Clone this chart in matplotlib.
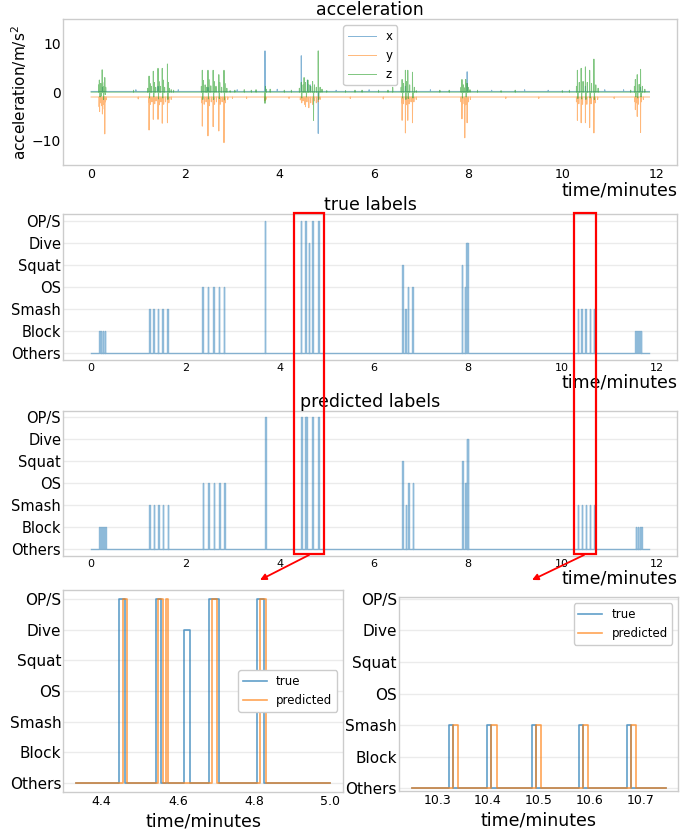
import numpy as np
import matplotlib
matplotlib.use('Agg')
import matplotlib.pyplot as plt
from matplotlib.patches import Rectangle, FancyArrowPatch

plt.rcParams['font.family'] = ['DejaVu Sans']

# ---------------- data ----------------
label_names = ['Others', 'Block', 'Smash', 'OS', 'Squat', 'Dive', 'OP/S']

rec_start, rec_end = 0.0, 11.85          # minutes
sample_step = 1 / 600                    # minutes per sample
base_x, base_y, base_z = 0.15, -1.0, 0.0 # resting acceleration (m/s^2)

# spikes: (time [min], value [m/s^2])
x_spikes = [(0.24, 1.0), (1.42, 1.2), (2.48, 1.0), (3.69, 8.5), (4.46, 7.5), (4.59, 2.5),
            (4.65, 1.5), (4.82, -8.5), (6.67, 1.2), (7.98, 4.2), (10.49, 1.2), (11.66, 1.0),
            (0.95, 0.5), (1.85, 0.5), (3.1, 0.5), (3.95, 0.6), (5.2, 0.4), (5.9, 0.5),
            (7.2, 0.5), (8.5, 0.4), (9.2, 0.5), (9.7, 0.4), (10.9, 0.5), (11.3, 0.5)]
y_spikes = [(0.17, -3.0), (0.18, -4.0), (0.20, -2.2), (0.22, -2.8), (0.24, -4.5), (0.26, -2.5),
            (0.28, -3.5), (0.29, -8.6), (0.30, -2.0), (0.32, -1.6),
            (1.22, -2.0), (1.23, -7.8), (1.26, -2.5), (1.29, -2.0), (1.32, -5.6), (1.35, -2.4),
            (1.38, -1.8), (1.42, -5.6), (1.45, -2.6), (1.48, -2.0), (1.51, -6.4), (1.54, -2.5),
            (1.58, -2.0), (1.62, -6.3), (1.65, -2.2), (1.70, -1.5),
            (2.35, -2.2), (2.36, -7.0), (2.40, -2.5), (2.44, -2.0), (2.48, -9.0), (2.51, -2.8),
            (2.55, -2.0), (2.59, -7.1), (2.62, -2.5), (2.66, -2.0), (2.71, -8.0), (2.74, -2.5),
            (2.78, -2.0), (2.82, -10.4), (2.85, -2.2), (2.90, -1.5), (3.0, -1.3),
            (3.69, -1.8), (3.71, -1.5),
            (4.44, -1.6), (4.47, -2.2), (4.50, -1.8), (4.53, -2.5), (4.55, -3.0), (4.58, -2.0),
            (4.62, -3.2), (4.66, -2.2), (4.70, -2.5), (4.74, -1.8), (4.78, -2.2), (4.82, -2.0),
            (4.86, -1.5),
            (6.59, -2.2), (6.60, -5.8), (6.63, -2.4), (6.67, -8.4), (6.69, -2.6), (6.72, -5.8),
            (6.75, -2.4), (6.79, -2.0), (6.82, -6.3), (6.85, -2.0), (6.90, -1.5),
            (7.85, -2.0), (7.87, -5.5), (7.89, -2.4), (7.93, -9.4), (7.95, -2.6), (7.98, -6.3),
            (8.01, -2.0), (8.05, -1.5),
            (10.30, -2.0), (10.32, -5.8), (10.35, -2.4), (10.40, -6.3), (10.43, -2.5),
            (10.49, -6.3), (10.52, -2.5), (10.58, -7.3), (10.61, -2.4), (10.67, -8.4),
            (10.70, -2.2), (10.75, -1.5),
            (11.54, -2.0), (11.55, -3.6), (11.57, -2.2), (11.59, -5.0), (11.61, -2.5),
            (11.66, -8.3), (11.68, -2.0), (11.72, -1.5),
            (1.0, -1.4), (3.3, -1.3), (4.2, -1.3), (5.5, -1.3), (6.2, -1.4), (8.8, -1.3),
            (9.5, -1.3), (11.1, -1.3)]
z_spikes = [(0.16, 1.5), (0.175, 2.5), (0.19, -1.0), (0.205, 1.8), (0.22, -0.8), (0.235, 4.6),
            (0.25, 1.2), (0.265, -1.5), (0.28, 2.0), (0.29, 3.0), (0.30, -0.5), (0.31, 1.0),
            (1.20, 0.8), (1.23, 3.3), (1.24, -1.2), (1.25, 1.8), (1.28, 1.2), (1.32, 4.3),
            (1.33, -1.0), (1.34, 2.0), (1.37, 1.0), (1.42, 4.9), (1.43, -1.4), (1.44, 2.2),
            (1.47, 1.2), (1.51, 4.9), (1.52, -1.2), (1.53, 2.5), (1.56, 1.0), (1.62, 5.8),
            (1.63, -1.5), (1.64, 2.0), (1.66, 0.8), (1.70, 0.5),
            (2.34, 1.2), (2.36, 4.5), (2.37, -1.5), (2.38, 2.4), (2.42, 1.5), (2.45, 1.0),
            (2.48, 4.5), (2.49, -1.4), (2.50, 2.6), (2.54, 1.3), (2.59, 4.5), (2.60, -1.5),
            (2.61, 2.2), (2.65, 1.2), (2.71, 3.6), (2.72, -1.3), (2.73, 2.0), (2.77, 1.0),
            (2.82, 4.5), (2.83, -1.6), (2.84, 1.8), (2.88, 0.8), (2.95, 0.6), (3.05, 0.4),
            (3.69, -2.3), (3.70, 1.2), (3.72, 0.6),
            (4.42, 0.8), (4.46, 2.0), (4.47, -1.2), (4.50, 1.5), (4.52, 3.0), (4.55, 2.0),
            (4.57, -1.0), (4.60, 2.5), (4.62, 1.5), (4.66, 1.2), (4.70, 2.2), (4.72, -5.8),
            (4.74, 1.5), (4.78, 1.0), (4.82, 8.5), (4.83, -1.5), (4.86, 1.0), (4.90, 0.6),
            (6.58, 1.0), (6.60, 2.6), (6.61, -1.2), (6.63, 1.8), (6.67, 4.5), (6.68, -1.5),
            (6.70, 2.2), (6.72, 4.5), (6.73, -1.3), (6.76, 1.5), (6.82, 4.1), (6.83, -1.2),
            (6.86, 1.0), (6.90, 0.5),
            (7.85, 1.0), (7.87, 2.6), (7.88, -1.2), (7.90, 1.5), (7.93, 0.9), (7.95, 2.6),
            (7.96, -1.0), (7.98, 1.8), (8.0, 1.0), (8.04, 0.5),
            (10.30, 1.2), (10.32, 4.5), (10.33, -1.3), (10.36, 2.0), (10.40, 4.9), (10.41, -1.4),
            (10.44, 2.2), (10.49, 5.2), (10.50, -1.5), (10.53, 2.0), (10.58, 4.5), (10.59, -1.2),
            (10.62, 1.8), (10.67, 6.8), (10.68, -1.5), (10.71, 1.5), (10.76, 0.8),
            (11.53, 1.2), (11.55, 2.6), (11.56, -1.0), (11.59, 3.6), (11.60, -1.2), (11.63, 1.6),
            (11.66, 4.7), (11.67, -1.0), (11.70, 1.2), (11.75, 0.6),
            (0.9, 0.4), (1.75, 0.4), (2.95, 0.3), (3.25, 0.5), (3.4, 0.4), (3.5, 0.5),
            (3.8, 0.6), (4.1, 0.4), (4.25, 0.4), (5.0, 0.3), (5.4, 0.3), (5.6, 0.4),
            (5.75, 0.4), (6.1, 0.4), (6.3, 0.4), (6.4, 1.0), (6.9, 0.3), (7.4, 0.4), (7.6, 0.4),
            (8.2, 0.4), (8.7, 0.3), (9.0, 0.4), (10.0, 0.3), (10.15, 0.4), (11.45, 0.4)]

# label events: (start [min], end [min], class index)
true_events = [(0.17, 0.185, 1), (0.205, 0.22, 1), (0.245, 0.26, 1), (0.285, 0.30, 1),
               (1.23, 1.24, 2), (1.32, 1.33, 2), (1.42, 1.43, 2), (1.51, 1.52, 2), (1.62, 1.63, 2),
               (2.36, 2.37, 3), (2.48, 2.49, 3), (2.59, 2.60, 3), (2.71, 2.72, 3), (2.82, 2.83, 3),
               (3.69, 3.70, 6),
               (4.447, 4.462, 6), (4.542, 4.555, 6), (4.617, 4.632, 5), (4.682, 4.708, 6),
               (4.808, 4.826, 6),
               (6.60, 6.61, 4), (6.67, 6.68, 2), (6.72, 6.73, 3), (6.82, 6.83, 3),
               (7.87, 7.88, 4), (7.93, 7.94, 3), (7.96, 7.975, 5), (7.985, 8.0, 5),
               (10.324, 10.332, 2), (10.399, 10.407, 2), (10.487, 10.494, 2), (10.579, 10.587, 2),
               (10.673, 10.681, 2),
               (11.55, 11.565, 1), (11.59, 11.605, 1), (11.63, 11.645, 1), (11.66, 11.675, 1)]
pred_events = [(0.178, 0.193, 1), (0.213, 0.228, 1), (0.253, 0.268, 1), (0.293, 0.308, 1),
               (1.238, 1.248, 2), (1.328, 1.338, 2), (1.428, 1.438, 2), (1.518, 1.528, 2), (1.628, 1.638, 2),
               (2.368, 2.378, 3), (2.488, 2.498, 3), (2.598, 2.608, 3), (2.718, 2.728, 3), (2.828, 2.838, 3),
               (3.698, 3.708, 6),
               (4.455, 4.467, 6), (4.548, 4.561, 6), (4.569, 4.573, 6), (4.689, 4.704, 6),
               (4.815, 4.831, 6),
               (6.608, 6.618, 4), (6.678, 6.688, 2), (6.728, 6.738, 3), (6.828, 6.838, 3),
               (7.878, 7.888, 4), (7.938, 7.948, 3), (7.968, 7.983, 5), (7.993, 8.008, 5),
               (10.332, 10.342, 2), (10.407, 10.417, 2), (10.494, 10.504, 2), (10.587, 10.597, 2),
               (10.681, 10.691, 2),
               (11.558, 11.573, 1), (11.598, 11.613, 1), (11.638, 11.653, 1), (11.668, 11.683, 1)]

zoom_windows = [(4.333, 5.0), (10.25, 10.75)]

# ---------------- helpers ----------------
time = np.arange(rec_start, rec_end + sample_step / 2, sample_step)


def signal(base, spikes):
    sig = np.full(time.shape, base)
    for ts, v in spikes:
        sig[int(round((ts - rec_start) / sample_step))] = v
    return sig


def steps(events, t0, t1):
    xs, ys = [t0], [0]
    for s, e, lv in sorted(events):
        if e < t0 or s > t1:
            continue
        xs += [s, s, e, e]
        ys += [0, lv, lv, 0]
    xs.append(t1)
    ys.append(0)
    return np.array(xs), np.array(ys)


C0, C1, C2 = '#1f77b4', '#ff7f0e', '#2ca02c'
SPINE = '#cccccc'
GRID = '#ebebeb'


def style(ax, grid=True):
    for s in ax.spines.values():
        s.set_color(SPINE)
        s.set_linewidth(1.0)
    ax.tick_params(length=0)
    ax.set_facecolor('white')
    if grid:
        ax.yaxis.grid(True, color=GRID, lw=1.0)
        ax.set_axisbelow(True)


W, H = 697, 833
fig = plt.figure(figsize=(W / 100, H / 100), dpi=100)


def box(l, t, r, b):
    return [l / W, 1 - b / H, (r - l) / W, (b - t) / H]


# ---------------- acceleration ----------------
ax0 = fig.add_axes(box(63.3, 19.3, 677.3, 165))
style(ax0, grid=False)
ax0.plot(time, signal(base_x, x_spikes), color=C0, lw=0.7, alpha=0.55, label='x')
ax0.plot(time, signal(base_y, y_spikes), color=C1, lw=0.7, alpha=0.55, label='y')
ax0.plot(time, signal(base_z, z_spikes), color=C2, lw=0.7, alpha=0.6, label='z')
ax0.set_xlim(-0.59, 12.44)
ax0.set_ylim(-15, 15)
ax0.set_yticks([-10, 0, 10])
ax0.set_xticks([0, 2, 4, 6, 8, 10, 12])
ax0.tick_params(axis='y', labelsize=10, pad=1.5)
ax0.tick_params(axis='x', labelsize=9, pad=2.5)
ax0.set_title('acceleration', fontsize=12.5, pad=1.5)
ax0.set_ylabel('acceleration/m/s$^2$', fontsize=11, labelpad=2)
ax0.set_xlabel('time/minutes', fontsize=12.5, loc='right', labelpad=0)
ax0.legend(loc='upper center', fontsize=8.5, handlelength=2.4, frameon=True,
           edgecolor=SPINE, framealpha=1)

# ---------------- true / predicted ----------------
for events, title, (l, t, r, b) in [(true_events, 'true labels', (63.3, 214.3, 677.3, 360)),
                                    (pred_events, 'predicted labels', (63.3, 410.7, 677.3, 556))]:
    ax = fig.add_axes(box(l, t, r, b))
    style(ax)
    xs, ys = steps(events, rec_start, rec_end)
    ax.plot(xs, ys, color=C0, lw=1.0, alpha=0.5)
    ax.set_xlim(-0.59, 12.44)
    ax.set_ylim(-0.3, 6.3)
    ax.set_yticks(range(7))
    ax.set_yticklabels(label_names)
    ax.set_xticks([0, 2, 4, 6, 8, 10, 12])
    ax.tick_params(axis='y', labelsize=10.5, pad=1.5)
    ax.tick_params(axis='x', labelsize=8, pad=2.5)
    ax.set_title(title, fontsize=12.5, pad=2)
    ax.set_xlabel('time/minutes', fontsize=12.5, loc='right', labelpad=0)

# ---------------- zooms ----------------
zoom_boxes = [(63.3, 590, 343, 792), (399, 597.3, 678.3, 790.7)]
zoom_ylims = [(-0.3, 6.3), (-0.075, 6.05)]
zoom_xticks = [[4.4, 4.6, 4.8, 5.0], [10.3, 10.4, 10.5, 10.6, 10.7]]
zoom_legend = ['center right', 'upper right']
for (t0, t1), bx, yl, xt, loc in zip(zoom_windows, zoom_boxes, zoom_ylims, zoom_xticks, zoom_legend):
    ax = fig.add_axes(box(*bx))
    style(ax)
    xs, ys = steps(true_events, t0, t1)
    ax.plot(xs, ys, color=C0, lw=1.2, alpha=0.7, label='true')
    xs, ys = steps(pred_events, t0, t1)
    ax.plot(xs, ys, color=C1, lw=1.2, alpha=0.7, label='predicted')
    pad = 0.05 * (t1 - t0)
    ax.set_xlim(t0 - pad, t1 + pad)
    ax.set_ylim(*yl)
    ax.set_yticks(range(7))
    ax.set_yticklabels(label_names)
    ax.set_xticks(xt)
    ax.set_xticklabels([f'{v:.1f}' for v in xt])
    ax.tick_params(axis='y', labelsize=11, pad=1.5)
    ax.tick_params(axis='x', labelsize=9, pad=2.5)
    ax.set_xlabel('time/minutes', fontsize=12.5, labelpad=3)
    ax.legend(loc=loc, fontsize=8.5, frameon=True, edgecolor=SPINE, framealpha=1,
              borderaxespad=0.5)

# ---------------- highlight boxes and arrows ----------------
for (l, r), (ax_, ay_), (bx_, by_) in [((294.3, 323.8), (309, 555), (260, 580)),
                                      ((574.3, 595.5), (584, 555), (532, 580))]:
    fig.add_artist(Rectangle((l / W, 1 - 554.3 / H), (r - l) / W, (554.3 - 212.7) / H,
                             transform=fig.transFigure, fill=False, edgecolor='red', lw=1.6))
    fig.add_artist(FancyArrowPatch((ax_ / W, 1 - ay_ / H), (bx_ / W, 1 - by_ / H),
                                   transform=fig.transFigure, arrowstyle='-|>',
                                   mutation_scale=9, color='red', lw=1.3,
                                   shrinkA=0, shrinkB=0))

fig.savefig('out.png', dpi=100)
